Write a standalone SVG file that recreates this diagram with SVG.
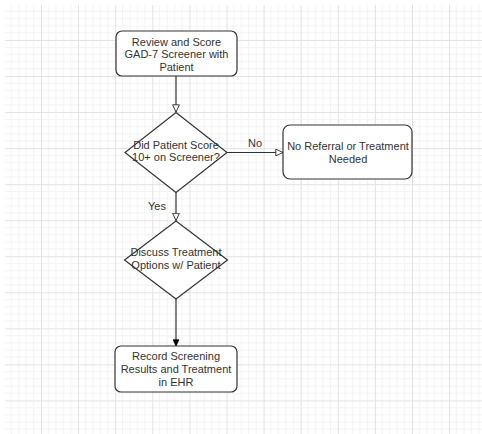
<svg xmlns="http://www.w3.org/2000/svg" width="482" height="434" viewBox="0 0 482 434">
<style>
.node{fill:#ffffff;stroke:#333333;stroke-width:1.2}
.lbl{font-family:"Liberation Sans",Arial,sans-serif;font-size:11px;fill:#333333;text-anchor:middle}
.edge{fill:none;stroke:#333333;stroke-width:1.2}
</style>
<defs>
<pattern id="grid" patternUnits="userSpaceOnUse" x="3.9" y="4" width="37.1" height="36.04">
<path d="M7.42 0V36.04M14.84 0V36.04M22.26 0V36.04M29.68 0V36.04M0 7.2H37.1M0 14.4H37.1M0 21.6H37.1M0 28.8H37.1" stroke="#f3f3f3" stroke-width="1" fill="none"/>
<path d="M0.5 0V36.04M0 0.5H37.1" stroke="#e2e2e2" stroke-width="1" fill="none"/>
</pattern>
<marker id="open" viewBox="0 0 10 10" refX="9.5" refY="5" markerWidth="8" markerHeight="8" markerUnits="userSpaceOnUse" orient="auto">
<path d="M0.5 0.8L9.5 5L0.5 9.2Z" fill="#ffffff" stroke="#333333" stroke-width="1.2"/>
</marker>
<marker id="filled" viewBox="0 0 10 10" refX="9.5" refY="5" markerWidth="7" markerHeight="7" markerUnits="userSpaceOnUse" orient="auto">
<path d="M0.5 0.8L9.5 5L0.5 9.2Z" fill="#000000" stroke="#000000" stroke-width="1"/>
</marker>
</defs>
<rect width="482" height="434" fill="#ffffff"/>
<rect x="5" y="5" width="477" height="429" fill="url(#grid)"/>
<g id="connectors">
<path class="edge" d="M176 76V112" marker-end="url(#open)"/>
<path class="edge" d="M227 152.5H283" marker-end="url(#open)"/>
<text class="lbl" x="255" y="147">No</text>
<path class="edge" d="M176 192V220.5" marker-end="url(#open)"/>
<text class="lbl" x="157" y="210">Yes</text>
<path class="edge" d="M176 299V346" marker-end="url(#filled)"/>
</g>
<g id="review">
<rect class="node" x="116" y="31" width="121" height="45" rx="6"/>
<text class="lbl" x="176.5" y="45.5">Review and Score</text>
<text class="lbl" x="176.5" y="58">GAD-7 Screener with</text>
<text class="lbl" x="176.5" y="70.5">Patient</text>
</g>
<g id="decision">
<path class="node" d="M176 112.5L227 152.5L176 192.5L125 152.5Z"/>
<text class="lbl" x="176" y="149">Did Patient Score</text>
<text class="lbl" x="176" y="161">10+ on Screener?</text>
</g>
<g id="noref">
<rect class="node" x="283" y="125" width="129" height="54" rx="7"/>
<text class="lbl" x="348" y="150">No Referral or Treatment</text>
<text class="lbl" x="348" y="163">Needed</text>
</g>
<g id="discuss">
<path class="node" d="M176 221L227.5 260L176 299L124.5 260Z"/>
<text class="lbl" x="176" y="256">Discuss Treatment</text>
<text class="lbl" x="176" y="269">Options w/ Patient</text>
</g>
<g id="record">
<rect class="node" x="115" y="346" width="122" height="46" rx="6"/>
<text class="lbl" x="176" y="359.5">Record Screening</text>
<text class="lbl" x="176" y="373">Results and Treatment</text>
<text class="lbl" x="176" y="385.5">in EHR</text>
</g>
</svg>
